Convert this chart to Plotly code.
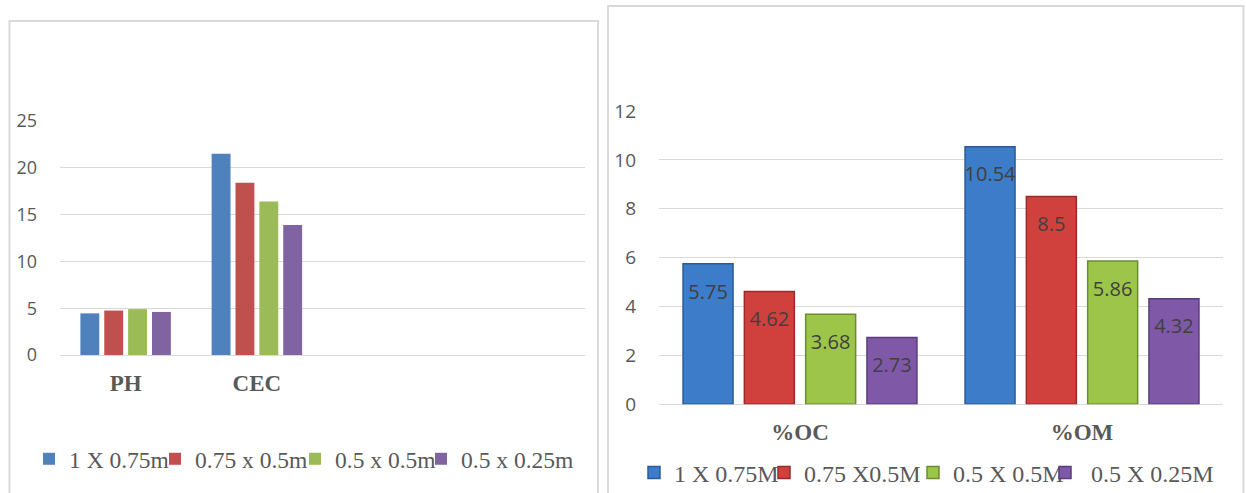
import plotly.graph_objects as go

# ---------------- data ----------------
left_categories = ["PH", "CEC"]
left_series = ["1 X 0.75m", "0.75 x 0.5m", "0.5 x 0.5m", "0.5 x 0.25m"]
left_s1 = [4.45, 21.5]
left_s2 = [4.75, 18.4]
left_s3 = [4.9, 16.4]
left_s4 = [4.6, 13.9]
left_yticks = [0, 5, 10, 15, 20, 25]

right_categories = ["%OC", "%OM"]
right_series = ["1 X 0.75M", "0.75 X0.5M", "0.5 X 0.5M", "\u00a00.5 X 0.25M"]
right_s1 = [5.75, 10.54]
right_s2 = [4.62, 8.5]
right_s3 = [3.68, 5.86]
right_s4 = [2.73, 4.32]
right_yticks = [0, 2, 4, 6, 8, 10, 12]

# ---------------- style ----------------
W, H = 1246, 493
def px(x):
    return x / W
def py(y):
    return 1 - y / H

left_colors = ["#4f81bd", "#c0504d", "#9bbb59", "#8064a2"]
right_colors = ["#3c7cc8", "#d0403d", "#9cc54a", "#7f58a8"]
right_edges = ["#2a5b98", "#9a2b29", "#6c8c31", "#5a3c7e"]
left_legend_w = [81, 95, 81, 120]
right_legend_w = [85, 104, 87, 125]

GRID = "#d9d9d9"
TXT = "#595959"
SERIF = "Liberation Serif"
SANS = "Open Sans"

# left chart bar geometry (category units)
CAT_PX = 132.0
PITCH = 24.0 / CAT_PX
BARW = 19.0 / CAT_PX

fig = go.Figure()

left_vals = [left_s1, left_s2, left_s3, left_s4]
for i, (name, vals) in enumerate(zip(left_series, left_vals)):
    fig.add_trace(go.Bar(
        x=left_categories, y=vals, name=name,
        marker=dict(color=left_colors[i], line=dict(width=0)),
        width=BARW, offset=-2 * PITCH + i * PITCH + (PITCH - BARW) / 2,
        xaxis="x", yaxis="y", legend="legend",
        legendwidth=left_legend_w[i], hoverinfo="y+name",
    ))

right_vals = [right_s1, right_s2, right_s3, right_s4]
for i, (name, vals) in enumerate(zip(right_series, right_vals)):
    fig.add_trace(go.Bar(
        x=right_categories, y=vals, name=name,
        marker=dict(color=right_colors[i], line=dict(width=1.5, color=right_edges[i])),
        xaxis="x2", yaxis="y2", legend="legend2",
        legendwidth=right_legend_w[i], hoverinfo="y+name",
    ))
for i, vals in enumerate(right_vals):
    fig.add_trace(go.Scatter(
        x=right_categories, y=vals, mode="markers+text",
        text=[f"{v:g}" for v in vals], textposition="bottom center",
        textfont=dict(family=SANS, size=20, color="#404040"),
        marker=dict(size=30, color="rgba(0,0,0,0)"),
        xaxis="x2", yaxis="y2", showlegend=False, hoverinfo="skip",
        cliponaxis=False,
    ))

shapes = [
    dict(type="rect", xref="paper", yref="paper",
         x0=px(9.5), x1=px(598), y0=-0.1, y1=py(21),
         line=dict(color=GRID, width=2), fillcolor="rgba(0,0,0,0)", layer="below"),
    dict(type="rect", xref="paper", yref="paper",
         x0=px(608), x1=px(1243.5), y0=-0.1, y1=py(6),
         line=dict(color=GRID, width=2), fillcolor="rgba(0,0,0,0)", layer="below"),
]

fig.update_layout(
    width=W, height=H,
    margin=dict(l=0, r=0, t=0, b=0, autoexpand=False),
    paper_bgcolor="white", plot_bgcolor="rgba(0,0,0,0)",
    barmode="group", bargap=0.1304, bargroupgap=0.1845,
    scattermode="group", scattergap=0.1304,
    shapes=shapes,
    xaxis=dict(domain=[px(60), px(585)], type="category", range=[-0.5, 3.5],
               showgrid=False, showline=False, zeroline=False, ticks="",
               tickfont=dict(family=SERIF, size=23, color=TXT, weight="bold"),
               ticklabelstandoff=12, anchor="y", fixedrange=True, automargin=False),
    yaxis=dict(domain=[py(355), py(121)], range=[0, 25], tickvals=left_yticks,
               showgrid=True, gridcolor=GRID, gridwidth=1,
               zeroline=True, zerolinecolor=GRID, zerolinewidth=1,
               showline=False, ticks="",
               tickfont=dict(family=SANS, size=18, color=TXT),
               ticklabelstandoff=22, anchor="x", fixedrange=True, automargin=False),
    xaxis2=dict(domain=[px(659), px(1223)], type="category",
                showgrid=False, showline=False, zeroline=False, ticks="",
                tickfont=dict(family=SERIF, size=23, color=TXT, weight="bold"),
                ticklabelstandoff=12, anchor="y2", fixedrange=True, automargin=False),
    yaxis2=dict(domain=[py(404.3), py(111)], range=[0, 12], tickvals=right_yticks,
                showgrid=True, gridcolor=GRID, gridwidth=1,
                zeroline=True, zerolinecolor=GRID, zerolinewidth=1,
                showline=False, ticks="",
                tickfont=dict(family=SANS, size=19, color=TXT),
                ticklabelstandoff=22, anchor="x2", fixedrange=True, automargin=False),
    legend=dict(orientation="h", xref="container", yref="container",
                x=px(29), xanchor="left", y=py(459), yanchor="middle",
                font=dict(family=SERIF, size=23.5, color=TXT), itemwidth=30,
                bgcolor="rgba(0,0,0,0)", borderwidth=0),
    legend2=dict(orientation="h", xref="container", yref="container",
                 x=px(634), xanchor="left", y=py(473), yanchor="middle",
                 font=dict(family=SERIF, size=24, color=TXT), itemwidth=30,
                 bgcolor="rgba(0,0,0,0)", borderwidth=0),
    showlegend=True,
)

fig.write_html("out.html")
